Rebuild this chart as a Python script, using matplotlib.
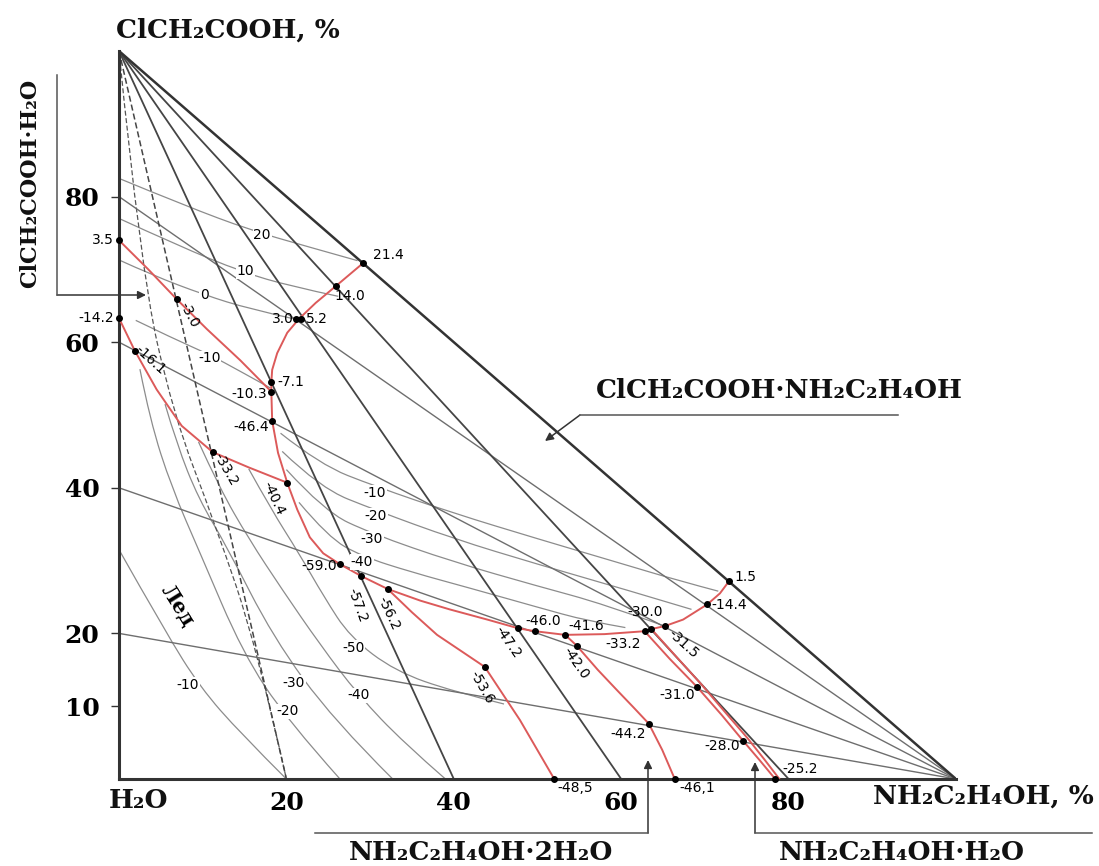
import matplotlib
matplotlib.use("Agg")
import matplotlib.pyplot as plt
from matplotlib.lines import Line2D
from matplotlib.path import Path
from matplotlib.patches import PathPatch

# composition in mass %: x = NH2C2H4OH, y = ClCH2COOH (H2O at the origin)
x_ticks = [20, 40, 60, 80]
y_ticks = [10, 20, 40, 60, 80]

top_fan_solid = [40, 60, 80]        # sections from the ClCH2COOH corner to the x axis
top_fan_dashed = [20]
right_fan = [20, 40, 60, 80]        # sections from the NH2C2H4OH corner to the y axis

# liquidus / boundary curves (red)
red_1 = [(0, 74.0), (3.5, 70.0), (6.9, 65.9), (10.5, 61.8), (14.5, 57.5), (18.2, 53.2)]
red_2 = [(0, 63.3), (1.9, 58.8), (4.5, 53.5), (7.5, 48.5), (11.2, 44.9), (15.5, 42.8), (20.1, 40.7)]
red_3 = [(29.2, 70.9), (25.9, 67.7), (23.5, 65.4), (21.5, 63.2), (20.1, 61.3), (18.9, 58.5),
         (18.3, 56.2), (18.2, 54.5), (18.2, 53.2), (18.3, 49.2), (19.0, 44.8), (20.1, 40.7),
         (21.3, 37.0), (22.8, 33.2), (24.4, 31.0), (26.4, 29.5)]
red_4 = [(26.4, 29.5), (28.9, 27.9), (32.1, 26.1), (36.0, 24.5), (39.5, 23.3), (44.0, 21.9),
         (47.7, 20.7), (49.7, 20.3), (53.3, 19.8), (58.0, 19.9), (62.8, 20.3), (63.6, 20.6),
         (65.2, 21.0), (67.4, 21.9), (70.3, 24.0), (71.8, 25.5), (72.9, 27.2)]
red_5 = [(32.1, 26.1), (35.0, 22.9), (38.0, 19.8), (43.7, 15.4), (47.9, 8.1), (52.0, 0)]
red_6 = [(53.3, 19.8), (54.7, 18.3), (57.2, 15.0), (59.5, 12.2), (61.5, 9.8), (63.3, 7.6),
         (64.9, 4.0), (66.4, 0)]
red_7 = [(62.8, 20.3), (65.8, 16.5), (69.1, 12.6), (72.0, 8.8), (74.6, 5.2), (76.6, 2.5), (78.4, 0)]
red_7b = [(63.6, 20.6), (66.5, 16.9), (69.5, 13.1), (72.4, 9.2), (75.1, 5.6), (77.1, 2.7), (78.9, 0)]

# isotherms (grey)
iso_upper = [
    [(0, 82.5), (8, 78.7), (15.7, 75.4), (22, 73.3), (28.5, 71.2)],
    [(0, 77.0), (7, 73.3), (14.8, 69.6), (20.5, 67.7), (26.2, 66.3)],
    [(0, 71.3), (4, 69.2), (10.2, 66.5), (15.5, 64.6), (21.3, 63.1)],
    [(2, 63.0), (6.5, 60.5), (10.8, 58.3), (14.5, 56.0), (18.1, 53.7)],
]
iso_middle = [
    [(19.3, 47.5), (24, 43.2), (30.6, 40.2), (40, 36.5), (50, 33.0), (60, 29.6), (67, 27.2), (71.6, 25.8)],
    [(19.5, 45.0), (24, 40.0), (30.7, 36.9), (40, 33.0), (50, 29.5), (60, 26.2), (68.4, 23.3)],
    [(20.0, 42.5), (24.5, 36.8), (30.2, 33.7), (40, 29.8), (50, 26.5), (58, 24.0), (65.2, 21.0)],
    [(21.5, 38.0), (25, 33.2), (29, 30.6), (35, 28.4), (42, 26.2), (50, 23.6), (56, 21.7), (60.5, 20.8)],
]
iso_ice = [
    [(0, 31.5), (5.6, 20.1), (9.7, 12.6), (14.5, 6.3), (20.0, 0)],
    [(2.5, 56.3), (3.7, 49.3), (6.3, 40.0), (9.7, 31.0), (14.8, 17.3), (20.1, 8.1), (26.4, 0)],
    [(5.5, 51.5), (6.9, 46.0), (9.5, 38.5), (12.9, 31.9), (18.4, 19.5), (25.6, 8.1), (32.7, 0)],
    [(9.5, 46.3), (12.0, 40.0), (15.5, 33.0), (19.5, 26.0), (24, 18.5), (28.6, 11.5), (34, 5.0), (39, 0)],
    [(15.5, 42.6), (18.2, 37.0), (21.5, 31.0), (24.5, 25.0), (27.6, 19.5), (33, 14.8), (40, 12.0), (46, 10.3)],
]
iso_dashed = [(0, 100), (2.6, 70), (6.5, 50), (11.5, 35), (16.5, 18), (20, 0)]

# invariant / experimental points
pt_x = [0, 6.9, 18.2, 18.2, 18.3, 0, 1.9, 11.2, 20.1, 26.4, 28.9, 32.1, 43.7, 52.0,
        47.7, 49.7, 53.3, 54.7, 63.3, 66.4, 62.8, 63.6, 65.2, 70.3, 72.9, 69.1, 74.6, 78.4,
        29.2, 25.9, 21.2, 21.8]
pt_y = [74.0, 65.9, 54.5, 53.2, 49.2, 63.3, 58.8, 44.9, 40.7, 29.5, 27.9, 26.1, 15.4, 0,
        20.7, 20.3, 19.8, 18.3, 7.6, 0, 20.3, 20.6, 21.0, 24.0, 27.2, 12.6, 5.2, 0,
        70.9, 67.7, 63.2, 63.2]
pt_t = ['3.5', '-3.0', '-7.1', '-10.3', '-46.4', '-14.2', '-16.1', '-33.2', '-40.4', '-59.0',
        '-57.2', '-56.2', '-53.6', '-48,5', '-47.2', '-46.0', '-41.6', '-42.0', '-44.2', '-46,1',
        '-33.2', '-31.5', '-30.0', '-14.4', '1.5', '-31.0', '-28.0', '-25.2',
        '21.4', '14.0', '3.0', '5.2']

# label placement for the points: (x, y, rotation, ha)
pt_lab = [(-0.6, 74.0, 0, 'right'), (8.4, 63.8, -62, 'center'), (18.9, 54.6, 0, 'left'),
          (17.7, 52.9, 0, 'right'), (17.9, 48.3, 0, 'right'), (-0.6, 63.3, 0, 'right'),
          (3.8, 57.6, -42, 'center'), (12.8, 42.6, -60, 'center'), (18.5, 38.5, -65, 'center'),
          (26.0, 29.2, 0, 'right'), (28.4, 23.8, -70, 'center'), (32.2, 22.8, -65, 'center'),
          (43.3, 12.6, -60, 'center'), (52.4, -1.2, 0, 'left'), (46.5, 18.8, -55, 'center'),
          (48.6, 21.7, 0, 'left'), (53.7, 21.0, 0, 'left'), (54.6, 15.9, -55, 'center'),
          (62.9, 6.2, 0, 'right'), (67.0, -1.2, 0, 'left'), (62.4, 18.6, 0, 'right'),
          (67.4, 18.5, -42, 'center'), (62.8, 23.0, 0, 'center'), (70.8, 23.9, 0, 'left'),
          (73.5, 27.7, 0, 'left'), (68.8, 11.6, 0, 'right'), (74.2, 4.5, 0, 'right'),
          (79.2, 1.4, 0, 'left'), (30.3, 72.0, 0, 'left'), (27.6, 66.3, 0, 'center'),
          (20.9, 63.2, 0, 'right'), (22.3, 63.2, 0, 'left')]

iso_t = ['20', '10', '0', '-10', '-10', '-20', '-30', '-40', '-50', '-40', '-30', '-20', '-10']
iso_tx = [17.1, 15.1, 10.2, 10.8, 30.6, 30.7, 30.2, 29.0, 28.0, 28.6, 20.9, 20.1, 8.2]
iso_ty = [74.7, 69.8, 66.5, 57.8, 39.3, 36.1, 33.0, 29.8, 18.0, 11.5, 13.2, 9.3, 12.9]

W, H = 1099, 866
serif = ['DejaVu Serif']
sans = ['DejaVu Sans']
RED = '#dc5a5a'
GREY = '#8c8c8c'
DARK = '#333333'

fig = plt.figure(figsize=(W / 100, H / 100), dpi=100)
ax = fig.add_axes([119 / W, (H - 779) / H, 837 / W, 728 / H])
ax.set_xlim(0, 100)
ax.set_ylim(0, 100)


def xy(pts):
    return [p[0] for p in pts], [p[1] for p in pts]


def fp(px, py):
    return px / W, 1 - py / H


def smooth(pts, **kw):
    # quadratic b-spline through the read points, drawn by matplotlib's path renderer
    verts, codes = [pts[0]], [Path.MOVETO]
    for i in range(1, len(pts) - 1):
        if i == len(pts) - 2:
            end = pts[-1]
        else:
            end = ((pts[i][0] + pts[i + 1][0]) / 2, (pts[i][1] + pts[i + 1][1]) / 2)
        verts += [pts[i], end]
        codes += [Path.CURVE3, Path.CURVE3]
    ax.add_patch(PathPatch(Path(verts, codes), fill=False, **kw))


# grey isotherms
for c in iso_upper + iso_middle + iso_ice:
    smooth(c, ec=GREY, lw=0.9, zorder=1)
smooth(iso_dashed, ec='#555555', lw=0.9, ls=(0, (4, 2)), zorder=1)

# sections through the corners
for e in right_fan:
    ax.plot([100, 0], [0, e], color='#6e6e6e', lw=1.0, zorder=2)
for e in top_fan_solid:
    ax.plot([0, e], [100, 0], color='#454545', lw=1.3, zorder=2)
for e in top_fan_dashed:
    ax.plot([0, e], [100, 0], color='#454545', lw=1.1, ls=(0, (4, 2)), zorder=2)

# triangle
ax.plot([0, 100], [100, 0], color=DARK, lw=1.8, zorder=3)
for s in ['top', 'right']:
    ax.spines[s].set_visible(False)
for s in ['left', 'bottom']:
    ax.spines[s].set_linewidth(2.2)
    ax.spines[s].set_color(DARK)

# red boundary curves
for c in [red_1, red_2, red_3, red_4, red_5, red_6, red_7, red_7b]:
    ax.plot(*xy(c), color=RED, lw=1.4, zorder=4)

ax.scatter(pt_x, pt_y, s=16, color='black', zorder=5, clip_on=False)
for t, (lx, ly, rot, ha) in zip(pt_t, pt_lab):
    ax.text(lx, ly, t, fontsize=10, family=sans, rotation=rot,
            ha=ha, va='center', zorder=6, clip_on=False)

for t, tx, ty in zip(iso_t, iso_tx, iso_ty):
    ax.text(tx, ty, t, fontsize=10, family=sans, ha='center', va='center', zorder=6,
            bbox=dict(boxstyle='square,pad=0.05', fc='white', ec='none'))

# ticks
ax.set_xticks(x_ticks)
ax.set_xticklabels([str(v) for v in x_ticks], fontsize=18, fontweight='bold', family=serif)
ax.tick_params(axis='x', length=0, pad=9)
ax.set_yticks(y_ticks)
ax.set_yticklabels([str(v) for v in y_ticks], fontsize=18, fontweight='bold', family=serif)
ax.tick_params(axis='y', length=6, width=1, color=DARK, pad=8)

ax.text(7.0, 23.8, 'Лед', fontsize=15, fontweight='bold', family=serif, rotation=-58,
        ha='center', va='center')

# captions outside the triangle
bold = dict(fontweight='bold', family=serif, color='#111111', ha='center', va='center')
fig.text(*fp(228, 30), 'ClCH₂COOH, %', fontsize=19, **bold)
fig.text(*fp(983, 796), 'NH₂C₂H₄OH, %', fontsize=19, **bold)
fig.text(*fp(138, 801), 'H₂O', fontsize=19, **bold)
fig.text(*fp(779, 390), 'ClCH₂COOH·NH₂C₂H₄OH', fontsize=19, **bold)
fig.text(*fp(481, 852), 'NH₂C₂H₄OH·2H₂O', fontsize=19, **bold)
fig.text(*fp(902, 852), 'NH₂C₂H₄OH·H₂O', fontsize=19, **bold)
fig.text(*fp(30, 183), 'ClCH₂COOH·H₂O', fontsize=16, rotation=90, **bold)

# leader lines and arrows
leaders = [[(580, 415), (898, 415)], [(315, 833), (648, 833)], [(755, 833), (1092, 833)],
           [(57, 75), (57, 295)]]
for (a, b) in leaders:
    p, q = fp(*a), fp(*b)
    fig.add_artist(Line2D([p[0], q[0]], [p[1], q[1]], transform=fig.transFigure,
                          color='#555555', lw=1.1))
arrows = [((580, 415), (545, 441)), ((648, 833), (648, 760)), ((755, 833), (755, 762)),
          ((57, 295), (146, 295))]
for (a, b) in arrows:
    ax.annotate('', xy=fp(*b), xytext=fp(*a), xycoords='figure fraction',
                textcoords='figure fraction',
                arrowprops=dict(arrowstyle='-|>', color='#333333', lw=1.1,
                                mutation_scale=12, shrinkA=0, shrinkB=0))

fig.savefig('out.png', dpi=100)
